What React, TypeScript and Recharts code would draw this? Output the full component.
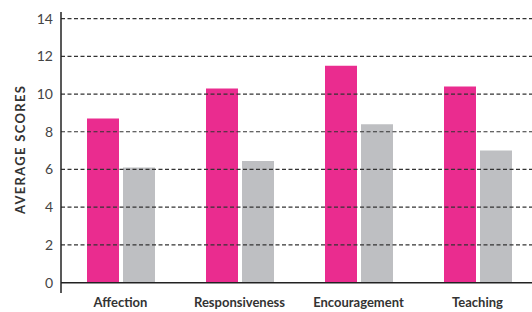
import React from "react";
import { BarChart, Bar, XAxis, YAxis, ReferenceLine } from "recharts";

const categories = ["Affection", "Responsiveness", "Encouragement", "Teaching"];
const pinkValues = [8.7, 10.3, 11.5, 10.4];
const grayValues = [6.1, 6.45, 8.4, 7.0];
const yTicks = [0, 2, 4, 6, 8, 10, 12, 14];

const chartData = categories.map((name, i) => ({
  name,
  pink: pinkValues[i],
  gray: grayValues[i],
}));

const FONT = "Lato, 'Open Sans', sans-serif";

function YLabel({ viewBox }: any) {
  const cy = viewBox.y + viewBox.height / 2 - 3;
  return (
    <text
      x={20}
      y={cy}
      transform={`rotate(-90, 20, ${cy})`}
      textAnchor="middle"
      dominantBaseline="central"
      fontFamily={FONT}
      fontWeight={700}
      fontSize={13}
      letterSpacing={1.3}
      fill="#333"
    >
      AVERAGE SCORES
    </text>
  );
}

export default function App() {
  return (
    <div
      style={{
        position: "fixed",
        left: 0,
        top: 0,
        width: 532,
        height: 312,
        overflow: "hidden",
        background: "#fff",
      }}
    >
      <BarChart
        width={540}
        height={312}
        data={chartData}
        margin={{ top: 12, right: 3, left: 0, bottom: 0 }}
        barGap={4}
        barSize={32}
      >
        {/* dashed gridlines at each tick except 0 */}
        {yTicks.slice(1).map((t) => (
          <ReferenceLine
            key={t}
            y={t}
            stroke="#333"
            strokeWidth={1.2}
            strokeDasharray="4 2.5"
          />
        ))}
        <XAxis
          dataKey="name"
          axisLine={false}
          tickLine={false}
          tickMargin={-1}
          height={19}
          interval={0}
          tick={{ fontSize: 13, fontWeight: 700, fill: "#333", fontFamily: FONT }}
        />
        <YAxis
          width={61}
          domain={[-0.55, 14.35]}
          ticks={yTicks}
          allowDataOverflow
          tickLine={false}
          axisLine={{ stroke: "#222", strokeWidth: 1.5 }}
          tick={{ fontSize: 14, fill: "#444", fontFamily: FONT }}
          label={<YLabel />}
        />
        <ReferenceLine y={0} stroke="#222" strokeWidth={1.5} />
        <Bar dataKey="pink" fill="#EA2C8F" isAnimationActive={false} />
        <Bar dataKey="gray" fill="#BEBFC2" isAnimationActive={false} />
      </BarChart>
    </div>
  );
}
